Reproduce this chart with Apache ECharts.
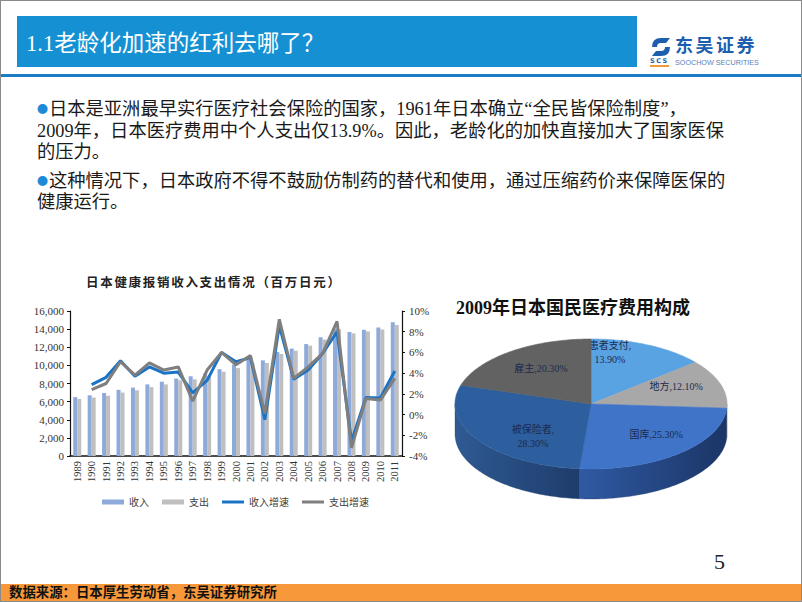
<!DOCTYPE html>
<html>
<head>
<meta charset="utf-8">
<script src="https://cdn.jsdelivr.net/npm/echarts@6/dist/echarts.min.js"></script>
<style>
html,body{margin:0;padding:0;width:802px;height:602px;overflow:hidden;background:#fff;}
#slide{position:relative;width:802px;height:602px;font-family:"Liberation Serif","Noto Sans CJK SC",serif;color:#1a1a1a;}
.abs{position:absolute;white-space:nowrap;}
#chart{position:absolute;left:0;top:0;width:802px;height:602px;}
#frame{position:absolute;left:0;top:0;width:800px;height:600px;border:1px solid #8a8a8a;pointer-events:none;}
.bul{display:inline-block;width:12px;font-family:"Noto Sans CJK SC",sans-serif;font-size:11px;color:#1f8ad8;vertical-align:2px;}
</style>
</head>
<body>
<div id="slide">
  <div class="abs" style="left:17px;top:16px;width:620px;height:51px;background:#1591d3;"></div>
  <div class="abs" style="left:26px;top:16px;height:51px;line-height:56px;font-size:22.5px;color:#fff;">1.1老龄化加速的红利去哪了？</div>
  <!-- logo -->
  <svg class="abs" style="left:650px;top:37px;" width="22" height="20" viewBox="0 0 22 20">
    <path d="M2 10 Q2 1 11 1 L20 1 L16 6 L11 6 Q7 6 7 10 Z" fill="#1d5fae"/>
    <path d="M20 10 Q20 19 11 19 L2 19 L6 14 L11 14 Q15 14 15 10 Z" fill="#1d5fae"/>
  </svg>
  <div class="abs" style="left:650px;top:58px;font:bold 6.5px 'DejaVu Sans',sans-serif;color:#1d5fae;letter-spacing:1.5px;border-bottom:2px solid #f39a38;line-height:7px;">SCS</div>
  <div class="abs" style="left:675px;top:34px;font:bold 18px 'Noto Sans CJK SC',sans-serif;color:#1d5fae;line-height:21px;height:21px;letter-spacing:2.5px;">东吴证券</div>
  <div class="abs" style="left:675px;top:59px;font:7.2px 'Liberation Sans',sans-serif;color:#5b80b8;line-height:8px;">SOOCHOW SECURITIES</div>
  <div class="abs" style="left:0;top:74px;width:802px;height:3px;background:#1b7cc6;"></div>

  <div class="abs" style="left:37px;top:98px;font-size:18.3px;line-height:21.5px;">
    <span class="bul">●</span>日本是亚洲最早实行医疗社会保险的国家，1961年日本确立“全民皆保险制度”，<br>2009年，日本医疗费用中个人支出仅13.9%。因此，老龄化的加快直接加大了国家医保<br>的压力。
  </div>
  <div class="abs" style="left:37px;top:170px;font-size:18.3px;line-height:21px;">
    <span class="bul">●</span>这种情况下，日本政府不得不鼓励仿制药的替代和使用，通过压缩药价来保障医保的<br>健康运行。
  </div>

  <div class="abs" style="left:86px;top:275px;font-weight:bold;font-size:12.5px;line-height:16px;letter-spacing:1.7px;color:#222;">日本健康报销收入支出情况（百万日元）</div>
  <div class="abs" style="left:456px;top:297px;font-weight:bold;font-size:18px;line-height:22px;color:#111;">2009年日本国民医疗费用构成</div>

  <div class="abs" style="left:714px;top:550px;font-size:22px;line-height:24px;color:#222;">5</div>
  <div class="abs" style="left:0;top:584px;width:802px;height:17px;background:#f7993b;"></div>
  <div class="abs" style="left:9px;top:584px;font-weight:bold;font-size:13.4px;line-height:18px;color:#111;">数据来源：日本厚生劳动省，东吴证券研究所</div>

  <div id="chart"></div>
  <div id="frame"></div>
</div>
<script>
// ---- data ----
const years = ['1989','1990','1991','1992','1993','1994','1995','1996','1997','1998','1999','2000','2001','2002','2003','2004','2005','2006','2007','2008','2009','2010','2011'];
const income = [6500,6700,6950,7300,7550,7900,8200,8550,8800,9100,9580,10080,10600,10550,11470,11850,12350,13100,14050,13680,13930,14190,14750];
const expense = [6300,6450,6650,7000,7250,7600,7900,8350,8460,8800,9300,9700,10250,10270,11260,11620,12170,12850,14000,13530,13750,13960,14460];
const incomeGrowth = [null,2.9,3.6,5.2,3.7,4.6,4.0,4.1,2.1,3.3,6.0,5.1,5.5,-0.5,8.6,3.4,4.3,5.9,8.0,-2.6,1.65,1.6,4.2];
const expenseGrowth = [null,2.4,3.0,5.1,3.8,5.0,4.3,4.6,1.3,4.3,6.0,4.8,5.7,0.1,9.2,3.5,4.6,5.9,9.0,-3.2,1.55,1.4,3.5];
const seriesNames = ['收入','支出','收入增速','支出增速'];
const pieNames = ['患者支付','地方','国库','被保险者','雇主'];
const pieValues = [13.9, 12.1, 25.3, 28.3, 20.3];

// ---- styles ----
const serif = '"Liberation Serif","Noto Sans CJK SC",serif';
const PIE = {cx:591, cy:404, rx:136, ry:65, depth:30};
const pieTop = ['#5aa3e3','#a8a8a8','#3f74c9','#2d5f9e','#626262'];
const pieSideL = ['#3d7fc0','#8a8a8a','#2f5aa3','#2f5a92','#4a4a4a'];
const pieSideD = ['#2a5f99','#6a6a6a','#1b3566','#1e3c6c','#333333'];
const pieLabel = [{da:-15,r:0.80,br:true},{da:-5,r:0.68,br:false},{da:-5,r:0.67,br:false},{da:-15.5,r:0.66,br:true},{da:2.6,r:0.66,br:false}];
const legendIcons = ['rect','rect','path://M0,0L22,0L22,3L0,3Z','path://M0,0L22,0L22,3L0,3Z'];

const pieTotal = pieValues.reduce((a,b)=>a+b,0);
const pieStart = []; let acc = 0;
pieValues.forEach(v=>{pieStart.push(acc); acc += v;});

function P(a, dy){
  const r = a*Math.PI/180;
  return [PIE.cx + PIE.rx*Math.cos(r), PIE.cy + PIE.ry*Math.sin(r) + (dy||0)];
}
function arc(a0, a1, dy){
  const pts = []; const n = Math.max(2, Math.ceil(Math.abs(a1-a0)));
  for(let k=0;k<=n;k++) pts.push(P(a0 + (a1-a0)*k/n, dy));
  return pts;
}

function renderPie(params, api){
  const i = params.dataIndex;
  const v = api.value(0), s = api.value(1);
  const a0 = -90 + 360*s/pieTotal, a1 = a0 + 360*v/pieTotal;
  const children = [];
  const ss = Math.max(a0, 0), ee = Math.min(a1, 180);
  if (ee > ss) {
    const pts = arc(ss, ee, 0).concat(arc(ee, ss, PIE.depth));
    children.push({type:'polygon', shape:{points:pts},
      style:{fill:new echarts.graphic.LinearGradient(0,0,1,0,[{offset:0,color:pieSideL[i]},{offset:1,color:pieSideD[i]}]), stroke:pieSideD[i], lineWidth:0.3}});
  }
  const top = [[PIE.cx, PIE.cy]].concat(arc(a0, a1, 0));
  children.push({type:'polygon', shape:{points:top}, style:{fill:pieTop[i], stroke:pieTop[i], lineWidth:0.6}});
  const L = pieLabel[i];
  const am = (a0 + a1)/2 + L.da;
  const rr = am*Math.PI/180;
  const lx = PIE.cx + L.r*PIE.rx*Math.cos(rr), ly = PIE.cy + L.r*PIE.ry*Math.sin(rr);
  const txt = pieNames[i] + ',' + (L.br ? '\n' : '') + v.toFixed(2) + '%';
  children.push({type:'text', x:lx, y:ly, style:{text:txt, fill:'#1c2a4e', fontSize:10, fontFamily:serif, align:'center', verticalAlign:'middle', lineHeight:14}});
  return {type:'group', children};
}

const chart = echarts.init(document.getElementById('chart'), null, {renderer:'svg'});
chart.setOption({
  animation:false,
  textStyle:{fontFamily:serif},
  grid:{left:70, top:311, width:332, height:145},
  legend:{left:102, top:497, padding:0, itemWidth:22, itemHeight:5, itemGap:13,
    textStyle:{fontSize:10, color:'#404040', fontFamily:serif},
    data:seriesNames.map((n,k)=>({name:n, icon:legendIcons[k]}))},
  xAxis:{type:'category', data:years,
    axisLine:{lineStyle:{color:'#111', width:1.6}}, axisTick:{show:false},
    axisLabel:{rotate:90, fontSize:10.5, color:'#333', margin:5, interval:0}},
  yAxis:[
    {type:'value', min:0, max:16000, interval:2000,
      axisLine:{show:true, lineStyle:{color:'#111', width:1.2}},
      axisTick:{show:true, length:3, lineStyle:{color:'#111'}}, splitLine:{show:false},
      axisLabel:{formatter:v=>v.toLocaleString('en-US'), fontSize:11, color:'#333', margin:6}},
    {type:'value', min:-4, max:10, interval:2, position:'right',
      axisLine:{show:true, lineStyle:{color:'#111', width:1.2}},
      axisTick:{show:true, length:3, lineStyle:{color:'#111'}}, splitLine:{show:false},
      axisLabel:{formatter:'{value}%', fontSize:11, color:'#333', margin:7}}
  ],
  series:[
    {name:seriesNames[0], type:'bar', data:income, barWidth:4, barGap:'0%', itemStyle:{color:'#8eaadb'}},
    {name:seriesNames[1], type:'bar', data:expense, barWidth:4, barGap:'0%', itemStyle:{color:'#bfbfbf'}},
    {name:seriesNames[2], type:'line', yAxisIndex:1, data:incomeGrowth, symbol:'none', itemStyle:{color:'#1a73c4'}, lineStyle:{width:3, color:'#1a73c4'}},
    {name:seriesNames[3], type:'line', yAxisIndex:1, data:expenseGrowth, symbol:'none', itemStyle:{color:'#7f7f7f'}, lineStyle:{width:3, color:'#7f7f7f'}},
    {type:'custom', coordinateSystem:'none', silent:true,
      data:pieValues.map((v,i)=>({name:pieNames[i], value:[v, pieStart[i]]})),
      renderItem:renderPie}
  ]
});
</script>
</body>
</html>
